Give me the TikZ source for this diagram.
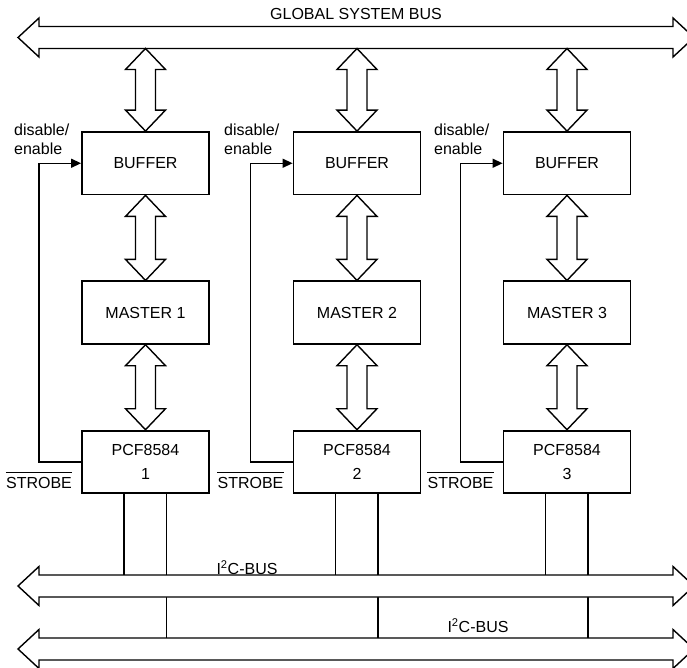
\documentclass[tikz,border=0pt]{standalone}
\usepackage{fontspec}
\setmainfont{Liberation Sans}
\usepackage{tikz}
\usetikzlibrary{arrows.meta, positioning, calc}

\tikzset{
  blk/.style={draw, line width=1.8pt, minimum width=127pt, minimum height=62.5pt, inner sep=0pt, font=\fontsize{16}{19}\selectfont},
  lbl/.style={inner sep=0pt, font=\fontsize{16}{19}\selectfont},
  fat/.style={draw, line width=1.4pt, fill=white, line join=miter},
  sig/.style={draw, line width=1.3pt},
  fb/.style={sig, -{Triangle[length=10pt,width=9pt]}},
}

% fat two-headed arrow, top point #1 down to bottom point #2
\newcommand{\vfat}[2]{%
  \draw[fat] (#1) -- ++(20,21) -- ++(-10,0) -- ($(#2)+(10,-21)$) -- ++(10,0)
    -- (#2) -- ++(-20,-21) -- ++(10,0) -- ($(#1)+(-10,21)$) -- ++(-10,0) -- cycle;}
% horizontal bus, centre line at y=#1
\newcommand{\hbus}[1]{%
  \draw[fat] (18,#1) -- (39,{#1-19.5}) -- (39,{#1-11}) -- (673,{#1-11}) -- (673,{#1-19.5})
    -- (694,#1) -- (673,{#1+19.5}) -- (673,{#1+11}) -- (39,{#1+11}) -- (39,{#1+19.5}) -- cycle;}

\begin{document}
\begin{tikzpicture}[x=1pt, y=-1pt]
\useasboundingbox (0,0) rectangle (687,668);

% --- BUSES (edges) ---
\coordinate (gbus) at (0,48.5);
\coordinate (ibusA) at (0,575);
\coordinate (ibusB) at (0,638);
\hbus{37.5}
\node[lbl] (gsb) at (356,13.5) {GLOBAL SYSTEM BUS};

% --- COLUMN 1 ---
\begin{scope}[shift={(145.5,0)}]
    \node[blk] (buf1) at (0,163.25) {BUFFER};
    \node[blk, below=85pt of buf1] (mas1) {MASTER 1};
    \node[blk, below=85pt of mas1, align=center] (pcf1) {PCF8584\\[5pt]1};
    \vfat{gbus -| buf1}{buf1.north}
    \vfat{buf1.south}{mas1.north}
    \vfat{mas1.south}{pcf1.north}
    \draw[fb] (pcf1.west) -- ++(-42,0) |- (buf1.west);
    \node[lbl, anchor=west, align=left] (de1) at (-131.5,139.5) {disable/\\enable};
    \node[lbl, anchor=base east] (stb1) at ($(pcf1.south west)+(-9,-6)$) {STROBE};
    \draw[line width=1pt] ([yshift=4pt]stb1.north west) -- ([yshift=4pt]stb1.north east);
    \coordinate (sda1) at ($(pcf1.south)+(-21.5,0)$);
    \coordinate (scl1) at ($(pcf1.south)+(21,0)$);
    \draw[sig] (sda1) -- (sda1 |- ibusA);
    \draw[sig] (scl1) -- (scl1 |- ibusB);
\end{scope}

% --- COLUMN 2 ---
\begin{scope}[shift={(357,0)}]
    \node[blk] (buf2) at (0,163.25) {BUFFER};
    \node[blk, below=85pt of buf2] (mas2) {MASTER 2};
    \node[blk, below=85pt of mas2, align=center] (pcf2) {PCF8584\\[5pt]2};
    \vfat{gbus -| buf2}{buf2.north}
    \vfat{buf2.south}{mas2.north}
    \vfat{mas2.south}{pcf2.north}
    \draw[fb] (pcf2.west) -- ++(-42,0) |- (buf2.west);
    \node[lbl, anchor=west, align=left] (de2) at (-133,139.5) {disable/\\enable};
    \node[lbl, anchor=base east] (stb2) at ($(pcf2.south west)+(-9,-6)$) {STROBE};
    \draw[line width=1pt] ([yshift=4pt]stb2.north west) -- ([yshift=4pt]stb2.north east);
    \coordinate (sda2) at ($(pcf2.south)+(-21.5,0)$);
    \coordinate (scl2) at ($(pcf2.south)+(21,0)$);
    \draw[sig] (sda2) -- (sda2 |- ibusA);
    \draw[sig] (scl2) -- (scl2 |- ibusB);
\end{scope}

% --- COLUMN 3 ---
\begin{scope}[shift={(567,0)}]
    \node[blk] (buf3) at (0,163.25) {BUFFER};
    \node[blk, below=85pt of buf3] (mas3) {MASTER 3};
    \node[blk, below=85pt of mas3, align=center] (pcf3) {PCF8584\\[5pt]3};
    \vfat{gbus -| buf3}{buf3.north}
    \vfat{buf3.south}{mas3.north}
    \vfat{mas3.south}{pcf3.north}
    \draw[fb] (pcf3.west) -- ++(-42,0) |- (buf3.west);
    \node[lbl, anchor=west, align=left] (de3) at (-133,139.5) {disable/\\enable};
    \node[lbl, anchor=base east] (stb3) at ($(pcf3.south west)+(-9,-6)$) {STROBE};
    \draw[line width=1pt] ([yshift=4pt]stb3.north west) -- ([yshift=4pt]stb3.north east);
    \coordinate (sda3) at ($(pcf3.south)+(-21.5,0)$);
    \coordinate (scl3) at ($(pcf3.south)+(21,0)$);
    \draw[sig] (sda3) -- (sda3 |- ibusA);
    \draw[sig] (scl3) -- (scl3 |- ibusB);
\end{scope}

% --- I2C BUSES ---
\hbus{586}
\hbus{649}
\node[lbl] (i2cA) at (247,568) {I\textsuperscript{2}C-BUS};
\node[lbl] (i2cB) at (478,626) {I\textsuperscript{2}C-BUS};

\end{tikzpicture}
\end{document}
